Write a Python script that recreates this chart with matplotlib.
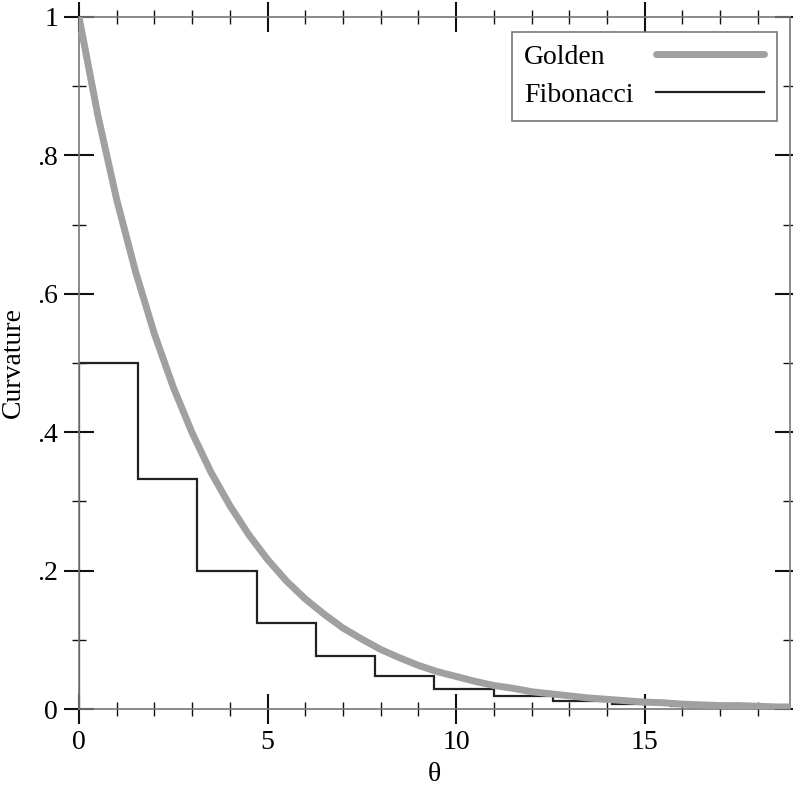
import numpy as np
import matplotlib.pyplot as plt
from matplotlib.ticker import MultipleLocator, FixedFormatter, FixedLocator

plt.rcParams['font.family'] = ['Liberation Serif', 'DejaVu Serif']

# golden spiral curvature
theta_golden = [0, 0.5, 1, 1.5, 2, 2.5, 3, 3.5, 4, 4.5, 5, 5.5, 6, 6.5, 7, 7.5,
                8, 8.5, 9, 9.5, 10, 10.5, 11, 11.5, 12, 12.5, 13, 13.5, 14,
                14.5, 15, 15.5, 16, 16.5, 17, 17.5, 18, 18.5, 18.85]
curv_golden = [1.0, 0.858, 0.736, 0.632, 0.542, 0.465, 0.399, 0.342, 0.294,
               0.252, 0.216, 0.185, 0.159, 0.137, 0.117, 0.101, 0.086, 0.074,
               0.063, 0.054, 0.047, 0.040, 0.034, 0.030, 0.025, 0.022, 0.019,
               0.016, 0.014, 0.012, 0.010, 0.009, 0.007, 0.006, 0.005, 0.005,
               0.004, 0.003, 0.003]

# fibonacci spiral: step edges (quarter turns) and curvature per step
fib_edges = [0, 1.571, 3.142, 4.712, 6.283, 7.854, 9.425, 10.996, 12.566,
             14.137, 15.708, 17.279, 18.850]
fib_curv = [0.5, 0.333, 0.2, 0.125, 0.0769, 0.0476, 0.0294, 0.0182, 0.0112,
            0.0069, 0.0043, 0.0026]

y_ticks = [0, 0.2, 0.4, 0.6, 0.8, 1.0]
y_labels = ['0', '.2', '.4', '.6', '.8', '1']

fig = plt.figure(figsize=(7.93, 7.93), dpi=100)
ax = fig.add_axes([0.0996, 0.1059, 0.8966, 0.8727])

ax.stairs(fib_curv, fib_edges, color='#222222', linewidth=1.6,
          label='Fibonacci', zorder=2)
ax.plot(theta_golden, curv_golden, color='#a0a0a0', linewidth=5,
        solid_capstyle='round', label='Golden', zorder=3)

ax.set_xlim(0, 18.85)
ax.set_ylim(0, 1)

ax.xaxis.set_major_locator(MultipleLocator(5))
ax.xaxis.set_minor_locator(MultipleLocator(1))
ax.yaxis.set_major_locator(FixedLocator(y_ticks))
ax.yaxis.set_major_formatter(FixedFormatter(y_labels))
ax.yaxis.set_minor_locator(MultipleLocator(0.1))

ax.tick_params(which='both', direction='inout', top=True, right=True,
               labelsize=20, color='#111111')
ax.tick_params(which='major', length=22, width=1.5, pad=4)
ax.tick_params(which='minor', length=10, width=1)
for s in ax.spines.values():
    s.set_color('#777777')
    s.set_linewidth(1.2)

ax.set_xlabel('θ', fontsize=20, labelpad=5)
ax.set_ylabel('Curvature', fontsize=20, labelpad=8)

h, l = ax.get_legend_handles_labels()
pad = 0.8
leg = ax.legend(h[::-1], l[::-1], loc='upper right', bbox_to_anchor=(0.9817, 0.978),
                borderaxespad=0, fontsize=20, markerfirst=False, handlelength=3.9,
                fancybox=False, framealpha=1, edgecolor='#777777',
                borderpad=0.45, labelspacing=0.45, handletextpad=pad)
leg.get_frame().set_linewidth(1.2)

# keep labels left-aligned with the lines on the right
r = fig.canvas.get_renderer()
widths = [t.get_window_extent(r).width for t in leg.get_texts()]
rows = leg._legend_handle_box.get_children()[0].get_children()
for row, w in zip(rows, widths):
    row.sep = pad * 20 + (max(widths) - w) * 72 / fig.dpi

fig.savefig('out.png', dpi=100)
